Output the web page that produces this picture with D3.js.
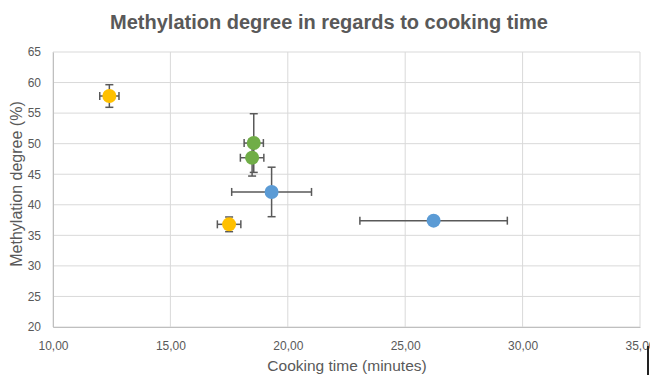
<!DOCTYPE html>
<html>
<head>
<meta charset="utf-8">
<script src="https://cdn.jsdelivr.net/npm/d3@7"></script>
<style>
  html, body { margin: 0; padding: 0; background: #fff; }
  svg { display: block; font-family: "Liberation Sans", Arial, sans-serif; }
</style>
</head>
<body>
<svg id="chart" width="650" height="375"></svg>
<script>
// Cooking time (minutes) per sample
const cookingTime = [12.40, 17.50, 18.55, 18.48, 19.31, 26.21];
// Methylation degree (%) per sample
const methylation = [57.8, 36.8, 50.1, 47.7, 42.1, 37.4];
// Standard deviations
const timeErr = [0.41, 0.50, 0.41, 0.50, 1.70, 3.14];
const methErr = [1.85, 1.2, 4.8, 3.0, 4.05, 0];
// Sample group (colour)
const group = ["orange", "orange", "green", "green", "blue", "blue"];
const groupColors = { orange: "#FFC000", green: "#70AD47", blue: "#5B9BD5" };

const xTicks = [10, 15, 20, 25, 30, 35];
const yTicks = [20, 25, 30, 35, 40, 45, 50, 55, 60, 65];

const svg = d3.select("#chart");
const x = d3.scaleLinear().domain([10, 35]).range([53, 640]);
const y = d3.scaleLinear().domain([20, 65]).range([327, 52]);
const fmt = v => v.toFixed(2).replace(".", ",");

// Grid lines
svg.append("g").selectAll("line.h").data(yTicks).join("line")
  .attr("x1", x(10)).attr("x2", x(35))
  .attr("y1", d => y(d)).attr("y2", d => y(d))
  .attr("stroke", "#d9d9d9").attr("stroke-width", 1);
svg.append("g").selectAll("line.v").data(xTicks).join("line")
  .attr("x1", d => x(d)).attr("x2", d => x(d))
  .attr("y1", y(20)).attr("y2", y(65))
  .attr("stroke", "#d9d9d9").attr("stroke-width", 1);

// Axes (labels only, lines drawn as grid)
const xAxis = svg.append("g").attr("transform", `translate(0,${y(20)})`)
  .call(d3.axisBottom(x).tickValues(xTicks).tickFormat(fmt).tickSize(0).tickPadding(14));
xAxis.select(".domain").attr("stroke", "#bfbfbf");
xAxis.selectAll("text").attr("fill", "#595959").attr("font-size", 12)
  .attr("font-family", "Liberation Sans, Arial, sans-serif");

const yAxis = svg.append("g").attr("transform", `translate(${x(10)},0)`)
  .call(d3.axisLeft(y).tickValues(yTicks).tickFormat(d3.format("d")).tickSize(0).tickPadding(12));
yAxis.select(".domain").attr("stroke", "#bfbfbf");
yAxis.selectAll("text").attr("fill", "#595959").attr("font-size", 12)
  .attr("font-family", "Liberation Sans, Arial, sans-serif");

// Error bars
const data = cookingTime.map((t, i) => ({
  t, m: methylation[i], te: timeErr[i], me: methErr[i], g: group[i]
}));
const eb = svg.append("g").attr("stroke", "#595959").attr("stroke-width", 1.5);
const cap = 4;
data.forEach(d => {
  if (d.te > 0) {
    eb.append("line").attr("x1", x(d.t - d.te)).attr("x2", x(d.t + d.te))
      .attr("y1", y(d.m)).attr("y2", y(d.m));
    [d.t - d.te, d.t + d.te].forEach(v => eb.append("line")
      .attr("x1", x(v)).attr("x2", x(v))
      .attr("y1", y(d.m) - cap).attr("y2", y(d.m) + cap));
  }
  if (d.me > 0) {
    eb.append("line").attr("x1", x(d.t)).attr("x2", x(d.t))
      .attr("y1", y(d.m - d.me)).attr("y2", y(d.m + d.me));
    [d.m - d.me, d.m + d.me].forEach(v => eb.append("line")
      .attr("x1", x(d.t) - cap).attr("x2", x(d.t) + cap)
      .attr("y1", y(v)).attr("y2", y(v)));
  }
});

// Markers
svg.append("g").selectAll("circle").data(data).join("circle")
  .attr("cx", d => x(d.t)).attr("cy", d => y(d.m)).attr("r", 7)
  .attr("fill", d => groupColors[d.g]);

// Title
svg.append("text").attr("x", 329).attr("y", 29).attr("text-anchor", "middle")
  .attr("font-size", 20).attr("font-weight", "bold").attr("fill", "#595959")
  .text("Methylation degree in regards to cooking time");

// Axis titles
svg.append("text").attr("x", 347).attr("y", 371).attr("text-anchor", "middle")
  .attr("font-size", 15.5).attr("fill", "#595959").text("Cooking time (minutes)");
svg.append("text").attr("transform", "translate(22,184) rotate(-90)")
  .attr("text-anchor", "middle").attr("font-size", 16).attr("fill", "#595959")
  .text("Methylation degree (%)");

// Frame edge at bottom right
svg.append("line").attr("x1", 648).attr("x2", 648).attr("y1", 346).attr("y2", 375)
  .attr("stroke", "#222").attr("stroke-width", 2);
</script>
</body>
</html>
